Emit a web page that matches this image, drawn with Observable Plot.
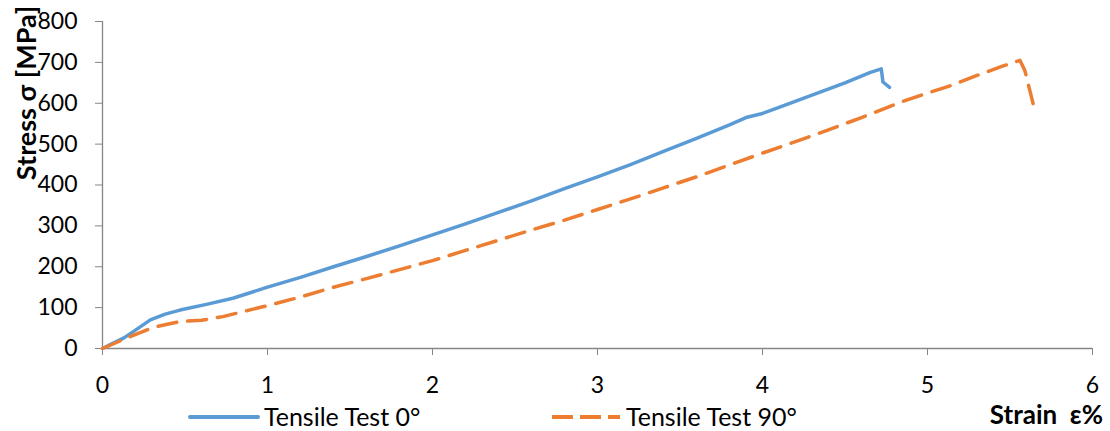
<!DOCTYPE html>
<html>
<head>
<meta charset="utf-8">
<script src="https://cdn.jsdelivr.net/npm/d3@7"></script>
<script src="https://cdn.jsdelivr.net/npm/@observablehq/plot@0.6"></script>
<style>
  html, body { margin: 0; padding: 0; background: #fff; }
  #wrap { position: relative; width: 1110px; height: 431px; font-family: Lato, "Open Sans", sans-serif; color: #000; }
  #wrap svg { display: block; }
  .ytitle { position: absolute; left: 25px; top: 93px; transform: translate(-50%, -50%) rotate(-90deg); font-weight: bold; font-size: 27px; white-space: pre; line-height: 1; }
  .xtitle { position: absolute; right: 7px; top: 401px; font-weight: bold; font-size: 26px; white-space: pre; line-height: 1; }
  .leg { position: absolute; top: 404px; display: flex; align-items: center; font-size: 25px; white-space: nowrap; line-height: 1; }
  .leg svg { margin-right: 4px; }
</style>
</head>
<body>
<div id="wrap"></div>
<script>
// Series 1: Tensile Test 0°
const strain0 = [0, 0.05, 0.13, 0.2, 0.29, 0.38, 0.47, 0.63, 0.79, 0.9, 1.0, 1.2, 1.4, 1.6, 1.8, 2.0, 2.2, 2.4, 2.6, 2.8, 3.0, 3.2, 3.4, 3.6, 3.8, 3.9, 4.0, 4.1, 4.3, 4.5, 4.65, 4.72, 4.73, 4.77];
const stress0 = [0, 10, 26, 45, 70, 84, 94, 108, 123, 137, 150, 174, 200, 225, 251, 278, 305, 333, 361, 391, 420, 450, 482, 514, 547, 565, 575, 590, 620, 650, 675, 684, 652, 639];
// Series 2: Tensile Test 90°
const strain90 = [0, 0.15, 0.31, 0.47, 0.6, 0.73, 0.9, 1.0, 1.2, 1.4, 1.6, 1.8, 2.0, 2.2, 2.4, 2.6, 2.8, 3.0, 3.2, 3.4, 3.6, 3.8, 4.0, 4.2, 4.4, 4.6, 4.84, 5.0, 5.14, 5.3, 5.45, 5.56, 5.59, 5.64];
const stress90 = [0, 26, 52, 66, 69, 78, 95, 105, 126, 150, 171, 193, 215, 240, 265, 290, 314, 340, 366, 393, 420, 449, 478, 506, 535, 565, 603, 625, 643, 668, 690, 705, 680, 599];

const seriesNames = ["Tensile Test 0°", "Tensile Test 90°"];
const xTicks = [0, 1, 2, 3, 4, 5, 6];
const yTicks = [0, 100, 200, 300, 400, 500, 600, 700, 800];
const xTitle = "Strain  ε%";
const yTitle = "Stress σ [MPa]";

const BLUE = "#5B9BD5", ORANGE = "#ED7D31", AXIS = "#868686";
const DASH = "19,11";

const d0 = strain0.map((x, i) => ({x, y: stress0[i]}));
const d90 = strain90.map((x, i) => ({x, y: stress90[i]}));

const chart = Plot.plot({
  width: 1110,
  height: 431,
  marginLeft: 102,
  marginRight: 18,
  marginTop: 21,
  marginBottom: 83,
  style: {fontFamily: "Lato, 'Open Sans', sans-serif", color: "#000", background: "#fff"},
  x: {domain: [0, 6]},
  y: {domain: [0, 800]},
  marks: [
    Plot.axisY({ticks: yTicks, tickFormat: d => String(d), tickSize: 7, tickPadding: 18, fontSize: 23, stroke: AXIS, fill: "#000", label: null}),
    Plot.axisX({ticks: xTicks, tickFormat: d => String(d), tickSize: 7, tickPadding: 21, fontSize: 23, stroke: AXIS, fill: "#000", label: null}),
    Plot.ruleX([0], {stroke: AXIS, strokeWidth: 1.3}),
    Plot.ruleY([0], {stroke: AXIS, strokeWidth: 1.3}),
    Plot.line(d0, {x: "x", y: "y", stroke: BLUE, strokeWidth: 3.5, strokeLinejoin: "round", strokeLinecap: "round"}),
    Plot.line(d90, {x: "x", y: "y", stroke: ORANGE, strokeWidth: 3.5, strokeDasharray: DASH, strokeLinejoin: "round"})
  ]
});

const wrap = document.getElementById("wrap");
wrap.appendChild(chart);

const yt = document.createElement("div");
yt.className = "ytitle"; yt.textContent = yTitle; wrap.appendChild(yt);
const xt = document.createElement("div");
xt.className = "xtitle"; xt.textContent = xTitle; wrap.appendChild(xt);

function legendItem(name, color, dash, left) {
  const div = document.createElement("div");
  div.className = "leg";
  div.style.left = left + "px";
  const ns = "http://www.w3.org/2000/svg";
  const s = document.createElementNS(ns, "svg");
  s.setAttribute("width", 72); s.setAttribute("height", 10);
  const l = document.createElementNS(ns, "line");
  l.setAttribute("x1", 2); l.setAttribute("x2", 70);
  l.setAttribute("y1", 5); l.setAttribute("y2", 5);
  l.setAttribute("stroke", color); l.setAttribute("stroke-width", 4);
  if (dash) { l.setAttribute("stroke-dasharray", "21,7"); } else { l.setAttribute("stroke-linecap", "round"); }
  s.appendChild(l);
  div.appendChild(s);
  const t = document.createElement("span"); t.textContent = name; div.appendChild(t);
  wrap.appendChild(div);
}
legendItem(seriesNames[0], BLUE, false, 188);
legendItem(seriesNames[1], ORANGE, true, 550);
</script>
</body>
</html>
